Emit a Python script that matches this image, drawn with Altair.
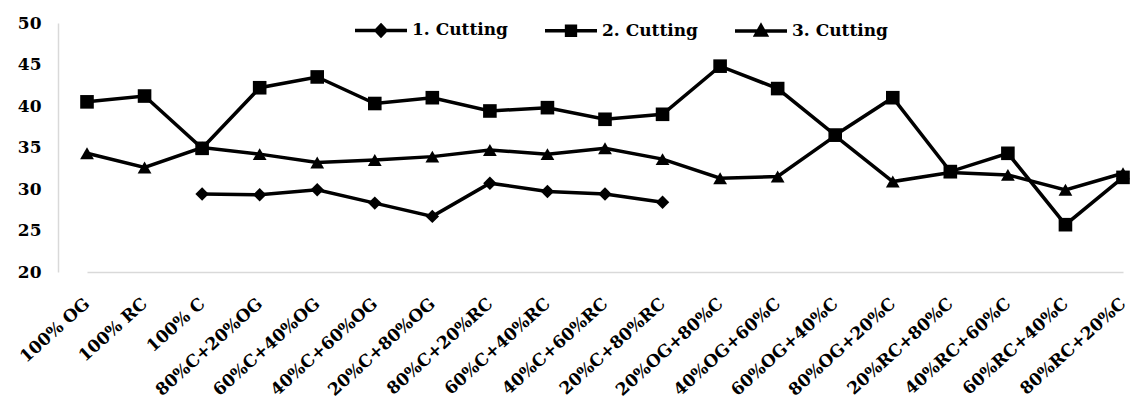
import altair as alt
import pandas as pd

categories = ["100% OG", "100% RC", "100% C", "80%C+20%OG", "60%C+40%OG", "40%C+60%OG",
              "20%C+80%OG", "80%C+20%RC", "60%C+40%RC", "40%C+60%RC", "20%C+80%RC",
              "20%OG+80%C", "40%OG+60%C", "60%OG+40%C", "80%OG+20%C", "20%RC+80%C",
              "40%RC+60%C", "60%RC+40%C", "80%RC+20%C"]
series_names = ["1. Cutting", "2. Cutting", "3. Cutting"]
cut1 = [None, None, 29.4, 29.3, 29.9, 28.3, 26.7, 30.7, 29.7, 29.4, 28.4,
        None, None, None, None, None, None, None, None]
cut2 = [40.5, 41.2, 34.9, 42.2, 43.5, 40.3, 41.0, 39.4, 39.8, 38.4, 39.0,
        44.8, 42.1, 36.5, 41.0, 32.1, 34.3, 25.7, 31.4]
cut3 = [34.3, 32.6, 35.0, 34.2, 33.2, 33.5, 33.9, 34.7, 34.2, 34.9, 33.6,
        31.3, 31.5, 36.4, 30.9, 32.0, 31.7, 29.9, 31.9]
y_ticks = [20, 25, 30, 35, 40, 45, 50]

rows = []
for name, vals in zip(series_names, [cut1, cut2, cut3]):
    for c, v in zip(categories, vals):
        if v is not None:
            rows.append({"cat": c, "series": name, "value": v})
df = pd.DataFrame(rows)

FONT = "DejaVu Serif"

x_enc = alt.X("cat:N", sort=categories,
              scale=alt.Scale(type="point", range=[29, 1065], padding=0),
              axis=alt.Axis(title=None, ticks=False, grid=False, labelAngle=-42,
                            labelAlign="right", labelBaseline="middle",
                            labelPadding=29, labelOffset=0,
                            labelFont=FONT, labelFontWeight="bold", labelFontSize=17,
                            labelColor="black", domainColor="#d9d9d9", domainWidth=1.5))
y_enc = alt.Y("value:Q",
              scale=alt.Scale(domain=[20, 50], nice=False, zero=False),
              axis=alt.Axis(title=None, values=y_ticks, ticks=False, grid=False,
                            labelFont=FONT, labelFontWeight="bold", labelFontSize=17,
                            labelColor="black", labelPadding=17,
                            domainColor="#d9d9d9", domainWidth=1.5))

base = alt.Chart(df)

lines = base.mark_line(color="black", strokeWidth=3.5).encode(
    x=x_enc, y=y_enc, detail="series:N")

points = base.mark_point(filled=True, color="black", opacity=1).encode(
    x=x_enc, y=y_enc,
    shape=alt.Shape("series:N",
                    scale=alt.Scale(domain=series_names,
                                    range=["diamond", "square", "triangle-up"]),
                    legend=None),
    size=alt.Size("series:N",
                  scale=alt.Scale(domain=series_names, range=[180, 190, 240]),
                  legend=None))

legend_paths = [
    "M-1,0H1M0,-0.2L0.19,0L0,0.2L-0.19,0Z",
    "M-1,0H1M-0.17,-0.17H0.17V0.17H-0.17Z",
    "M-1,0H1M0,-0.2L0.2,0.15L-0.2,0.15Z",
]

legend_layer = base.mark_point(filled=False, color="black", fill="black",
                               stroke="black", strokeWidth=3.5, opacity=0).encode(
    x=x_enc, y=y_enc,
    shape=alt.Shape("series:N",
                    scale=alt.Scale(domain=series_names, range=legend_paths),
                    legend=alt.Legend(title=None, orient="none", direction="horizontal",
                                      legendX=295, legendY=-21, padding=0,
                                      symbolSize=2704, symbolOpacity=1,
                                      symbolStrokeWidth=3.5,
                                      labelFont=FONT, labelFontWeight="bold",
                                      labelFontSize=17, labelColor="black",
                                      labelOffset=3, columnPadding=30)))

chart = alt.layer(lines, points, legend_layer).resolve_scale(
    shape="independent"
).properties(
    width=1074, height=249,
    autosize=alt.AutoSizeParams(type="none"),
    padding={"left": 50, "top": 15, "right": 0, "bottom": 136},
    background="white",
).configure_view(stroke=None)

chart.save("out.html", embed_options={"renderer": "svg", "actions": False})
